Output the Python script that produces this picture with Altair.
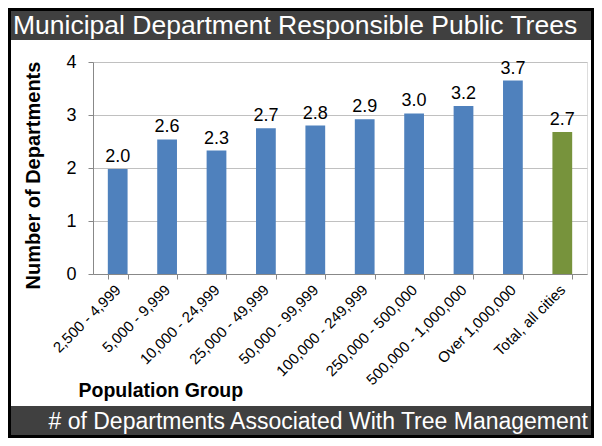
import altair as alt
import pandas as pd

# ---- data ----
groups = ["2,500 - 4,999", "5,000 - 9,999", "10,000 - 24,999", "25,000 - 49,999",
          "50,000 - 99,999", "100,000 - 249,999", "250,000 - 500,000",
          "500,000 - 1,000,000", "Over 1,000,000", "Total, all cities"]
values = [1.98, 2.54, 2.33, 2.75, 2.80, 2.92, 3.03, 3.17, 3.65, 2.68]
labels = ["2.0", "2.6", "2.3", "2.7", "2.8", "2.9", "3.0", "3.2", "3.7", "2.7"]
kinds = ["group"] * 9 + ["total"]
y_ticks = [0, 1, 2, 3, 4]

title_text = "Municipal Department Responsible Public Trees"
footer_text = "# of Departments Associated With Tree Management"

df = pd.DataFrame({"group": groups, "value": values, "label": labels, "kind": kinds})
one = pd.DataFrame({"k": [0]})

FONT = "Liberation Sans"
PW, PH = 494, 212

x_enc = alt.X("group:N", sort=groups,
              scale=alt.Scale(paddingInner=0.6, paddingOuter=0.3),
              axis=alt.Axis(title="Population Group", labelAngle=-45,
                            labelAlign="right", labelBaseline="middle",
                            labelPadding=8, labelFontSize=15, labelColor="#000",
                            labelFont=FONT, tickBand="extent", tickSize=5,
                            tickColor="#888", domainColor="#888", grid=False,
                            titleFontSize=19.5, titleFont=FONT, titleFontWeight="bold",
                            titleColor="#000", titleAnchor="start", titleAlign="left",
                            titleX=-15, titleY=122, titleBaseline="alphabetic"))
y_enc = alt.Y("value:Q", scale=alt.Scale(domain=[0, 4], nice=False),
              axis=alt.Axis(title="Number of Departments", values=y_ticks,
                            format="d", labelFontSize=18, labelFont=FONT,
                            labelColor="#000", labelPadding=12, tickSize=5,
                            tickColor="#888", domainColor="#888",
                            gridColor="#C0C0C0", titleFontSize=20, titleFont=FONT,
                            titleFontWeight="bold", titleColor="#000",
                            titleX=-60, titleY=PH / 2 + 7, titleAngle=-90,
                            titleAlign="center", titleBaseline="middle"))

bars = alt.Chart(df).mark_bar().encode(
    x=x_enc, y=y_enc,
    color=alt.Color("kind:N", scale=alt.Scale(domain=["group", "total"],
                                              range=["#4F81BD", "#77933C"]),
                    legend=None))

texts = alt.Chart(df).mark_text(baseline="alphabetic", dy=-7, fontSize=18,
                                font=FONT, color="#000").encode(
    x=alt.X("group:N", sort=groups), y="value:Q", text="label:N")

# ---- decorations (frame, title bar, footer bar) ----
title_bar = alt.Chart(one).mark_rect(color="#404040").encode(
    x=alt.value(-83), x2=alt.value(498), y=alt.value(-52), y2=alt.value(-22))
footer_bar = alt.Chart(one).mark_rect(color="#404040").encode(
    x=alt.value(-83), x2=alt.value(498), y=alt.value(344), y2=alt.value(373))
frame = alt.Chart(one).mark_rect(fill=None, stroke="#000", strokeWidth=3).encode(
    x=alt.value(-83.5), x2=alt.value(499.5), y=alt.value(-52.5), y2=alt.value(374.5))
title_mark = alt.Chart(one).mark_text(align="left", baseline="alphabetic",
                                      fontSize=26.5, font=FONT, color="#fff").encode(
    x=alt.value(-80), y=alt.value(-28), text=alt.value(title_text))
footer_mark = alt.Chart(one).mark_text(align="right", baseline="alphabetic",
                                       fontSize=23, font=FONT, color="#fff").encode(
    x=alt.value(495), y=alt.value(367), text=alt.value(footer_text))

chart = alt.layer(title_bar, footer_bar, bars, texts, title_mark, footer_mark, frame).properties(
    width=PW, height=PH,
    autosize=alt.AutoSizeParams(type="none"),
    padding={"left": 85, "top": 54, "right": 7, "bottom": 164},
    background="white",
).configure_view(stroke=None).configure(font=FONT)

chart.save("out.html", embed_options={"renderer": "svg", "actions": False})
